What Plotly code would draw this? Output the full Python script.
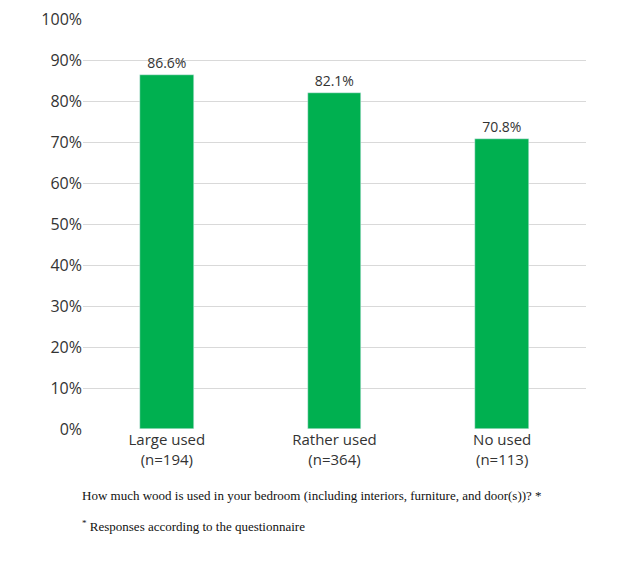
import plotly.graph_objects as go

categories = ["Large used<br>(n=194)", "Rather used<br>(n=364)", "No used<br>(n=113)"]
values = [86.6, 82.1, 70.8]
tick_vals = list(range(0, 101, 10))
tick_text = [f"{v}%" for v in tick_vals]

fig = go.Figure(go.Bar(
    x=categories, y=values, width=0.32, marker_color="#00B050",
    text=[f"{v:.1f}%" for v in values], textposition="outside",
    textfont=dict(family="Open Sans, Arial", size=14, color="#333"),
    cliponaxis=False,
))
fig.update_layout(
    width=640, height=562, plot_bgcolor="white", paper_bgcolor="white",
    margin=dict(l=75, r=62, t=11, b=141, autoexpand=False), showlegend=False,
    font=dict(family="Open Sans, Arial", size=16, color="#333"),
    bargap=0,
)
fig.update_yaxes(range=[0, 100.2], tickvals=tick_vals, ticktext=tick_text, automargin=False,
                 showgrid=True, gridcolor="#d9d9d9", gridwidth=1, zeroline=False,
                 ticks="", ticklen=0, tickfont=dict(size=16))
fig.update_xaxes(showline=False, tickfont=dict(size=15), range=[-0.5, 2.5], automargin=False)
fig.add_annotation(xref="paper", yref="paper", x=-0.005, y=-0.163, xanchor="left", yanchor="middle",
                   showarrow=False, align="left",
                   text="How much wood is used in your bedroom (including interiors, furniture, and door(s))? *",
                   font=dict(family="Liberation Serif", size=13, color="#111"))
fig.add_annotation(xref="paper", yref="paper", x=-0.005, y=-0.237, xanchor="left", yanchor="middle",
                   showarrow=False, align="left",
                   text="<sup>*</sup> Responses according to the questionnaire",
                   font=dict(family="Liberation Serif", size=13, color="#111"))
fig.write_html("out.html")
